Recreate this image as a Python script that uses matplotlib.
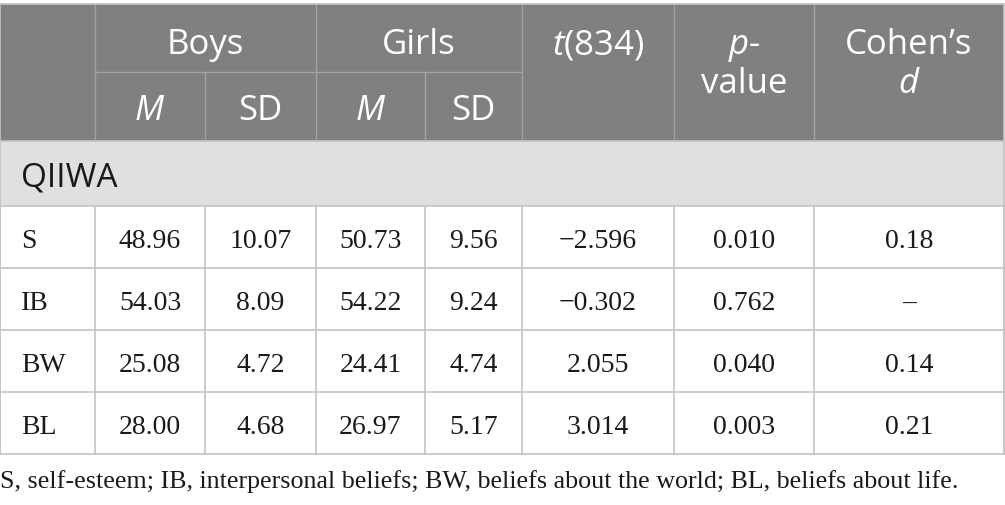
import matplotlib.pyplot as plt
from matplotlib.patches import Rectangle

plt.rcParams["mathtext.fontset"] = "custom"
plt.rcParams["mathtext.it"] = "Open Sans:italic"
plt.rcParams["mathtext.rm"] = "Open Sans"

# table content
row_labels = ["S", "IB", "BW", "BL"]
boys_m = ["48.96", "54.03", "25.08", "28.00"]
boys_sd = ["10.07", "8.09", "4.72", "4.68"]
girls_m = ["50.73", "54.22", "24.41", "26.97"]
girls_sd = ["9.56", "9.24", "4.74", "5.17"]
t_vals = ["\u22122.596", "\u22120.302", "2.055", "3.014"]
p_vals = ["0.010", "0.762", "0.040", "0.003"]
cohen_d = ["0.18", "\u2013", "0.14", "0.21"]
section = "QIIWA"
footnote = ("S, self-esteem; IB, interpersonal beliefs; BW, beliefs about the world; "
            "BL, beliefs about life.")

# layout in pixels
col_edges = [0, 95, 205, 316, 425, 522, 674, 814, 1004]
top, mid, head_bot, sec_bot = 4, 72, 141, 206
row_h = 62

header_bg = "#808080"
section_bg = "#e1dfe0"
grid = "#c4c4c4"
head_grid = "#a3a3a3"

fig = plt.figure(figsize=(10.05, 5.05), dpi=100)
ax = fig.add_axes([0, 0, 1, 1])
ax.set_xlim(0, 1005)
ax.set_ylim(505, 0)
ax.axis("off")

L, R = col_edges[0], col_edges[-1]
bottom = sec_bot + row_h * len(row_labels)

# backgrounds
ax.add_patch(Rectangle((L, top), R - L, head_bot - top, facecolor=header_bg, edgecolor="none"))
ax.add_patch(Rectangle((L, head_bot), R - L, sec_bot - head_bot, facecolor=section_bg, edgecolor="none"))

# header lines
for x in col_edges[1:-1]:
    if x in (205, 425):
        ax.plot([x, x], [mid, head_bot], color=head_grid, lw=1)
    else:
        ax.plot([x, x], [top, head_bot], color=head_grid, lw=1)
ax.plot([95, 522], [mid, mid], color=head_grid, lw=1)

# body lines
for i in range(len(row_labels) + 1):
    y = sec_bot + i * row_h
    ax.plot([L, R], [y, y], color=grid, lw=1.2)
for x in col_edges:
    ax.plot([x, x], [sec_bot, bottom], color=grid, lw=1.2)
ax.plot([L, L], [top, bottom], color=grid, lw=1.2)
ax.plot([R, R], [top, bottom], color=grid, lw=1.2)
ax.plot([L, R], [top, top], color=grid, lw=1.2)
ax.plot([L, R], [head_bot, head_bot], color=grid, lw=1.2)

def cx(i):
    return (col_edges[i] + col_edges[i + 1]) / 2

hfont = dict(family="Open Sans", fontsize=25, color="white", ha="center", va="baseline")
ax.text((95 + 316) / 2, 54, "Boys", **hfont)
ax.text((316 + 522) / 2, 54, "Girls", **hfont)
for i, lab in zip(range(1, 5), ["$M$", "SD", "$M$", "SD"]):
    ax.text(cx(i), 120, lab, **hfont)
ax.text(cx(5), 54, "$t$(834)", **hfont)
ax.text(cx(6), 54, "$p$-", **hfont)
ax.text(cx(6), 93, "value", **hfont)
ax.text(cx(7), 54, "Cohen\u2019s", **hfont)
ax.text(cx(7), 93, "$d$", **hfont)

ax.text(21, 187, section, family="Open Sans", fontsize=24, color="#1a1a1a", va="baseline")

bfont = dict(family="Liberation Serif", fontsize=20, color="#1a1a1a", va="baseline")
columns = [boys_m, boys_sd, girls_m, girls_sd, t_vals, p_vals, cohen_d]
for r, lab in enumerate(row_labels):
    y = sec_bot + r * row_h + 42
    ax.text(21, y, lab, ha="left", **bfont)
    for c, col in enumerate(columns):
        ax.text(cx(c + 1), y, col[r], ha="center", **bfont)

ax.text(0, 488, footnote, family="Liberation Serif", fontsize=18.7, color="#1a1a1a", va="baseline")

fig.savefig("out.png", dpi=100)
